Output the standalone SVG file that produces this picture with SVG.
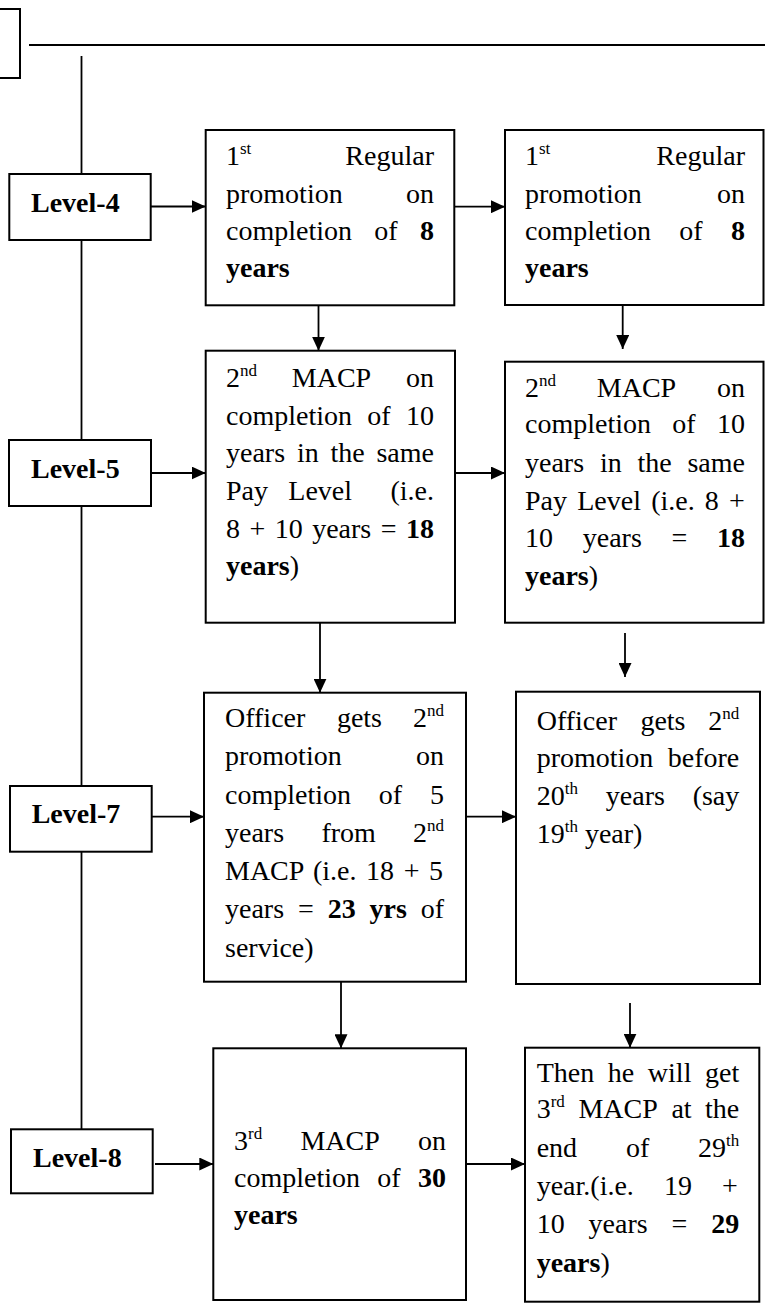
<svg xmlns="http://www.w3.org/2000/svg" width="765" height="1309" viewBox="0 0 765 1309">
<defs>
<marker id="ah" markerUnits="userSpaceOnUse" markerWidth="15" markerHeight="13" refX="14" refY="6.5" orient="auto"><path d="M0,0 L14,6.5 L0,13 z" fill="#000"/></marker>
<style>
.box{fill:#fff;stroke:#000;stroke-width:2}
.ln{fill:none;stroke:#000;stroke-width:1.8}
.t{font-family:"Liberation Serif","Times New Roman",serif;font-size:28px;fill:#000}
.b{font-weight:bold}
.s{font-size:17px}
.lv{font-family:"Liberation Serif","Times New Roman",serif;font-size:28px;font-weight:bold;fill:#000}
</style>
</defs>
<rect width="765" height="1309" fill="#fff"/>
<g id="connectors">
<rect class="box" x="-3" y="9" width="23" height="69"/>
<line class="ln" x1="29" y1="45" x2="765" y2="45"/>
<line class="ln" x1="81.5" y1="56" x2="81.5" y2="1129"/>
<line class="ln" x1="151" y1="206.5" x2="205.7" y2="206.5" marker-end="url(#ah)"/>
<line class="ln" x1="454.3" y1="206.7" x2="505" y2="206.7" marker-end="url(#ah)"/>
<line class="ln" x1="151" y1="473" x2="205.7" y2="473" marker-end="url(#ah)"/>
<line class="ln" x1="455" y1="473" x2="505" y2="473" marker-end="url(#ah)"/>
<line class="ln" x1="152" y1="816.7" x2="204" y2="816.7" marker-end="url(#ah)"/>
<line class="ln" x1="466" y1="816.7" x2="516" y2="816.7" marker-end="url(#ah)"/>
<line class="ln" x1="155" y1="1164" x2="213.3" y2="1164" marker-end="url(#ah)"/>
<line class="ln" x1="466" y1="1164" x2="525" y2="1164" marker-end="url(#ah)"/>
<line class="ln" x1="318.5" y1="305.3" x2="318.5" y2="350.7" marker-end="url(#ah)"/>
<line class="ln" x1="622.7" y1="305" x2="622.7" y2="349" marker-end="url(#ah)"/>
<line class="ln" x1="320" y1="622.7" x2="320" y2="692.7" marker-end="url(#ah)"/>
<line class="ln" x1="625" y1="633" x2="625" y2="677" marker-end="url(#ah)"/>
<line class="ln" x1="341" y1="981.7" x2="341" y2="1048.3" marker-end="url(#ah)"/>
<line class="ln" x1="630" y1="1003" x2="630" y2="1047.7" marker-end="url(#ah)"/>
</g>
<g id="level4"><rect class="box" x="9.3" y="174" width="141.4" height="66"/><text class="lv" x="31" y="211.7">Level-4</text></g>
<g id="level5"><rect class="box" x="9" y="440" width="142" height="66"/><text class="lv" x="31" y="478">Level-5</text></g>
<g id="level7"><rect class="box" x="10" y="786" width="141.7" height="65.7"/><text class="lv" x="31.7" y="823">Level-7</text></g>
<g id="level8"><rect class="box" x="11" y="1129.3" width="141.7" height="64"/><text class="lv" x="33" y="1166.7">Level-8</text></g>
<g id="a1">
<rect class="box" x="205.7" y="130" width="248.6" height="175.3"/>
<text class="t" y="165"><tspan x="226">1</tspan><tspan class="s" dy="-11">st</tspan><tspan x="434" dy="11" text-anchor="end">Regular</tspan></text>
<text class="t" y="203"><tspan x="226">promotion</tspan><tspan x="434" text-anchor="end">on</tspan></text>
<text class="t" x="226" y="240" word-spacing="15.35">completion of <tspan class="b">8</tspan></text>
<text class="t b" x="226" y="277">years</text>
</g>
<g id="b1">
<rect class="box" x="505" y="130" width="258.5" height="175"/>
<text class="t" y="165"><tspan x="525">1</tspan><tspan class="s" dy="-11">st</tspan><tspan x="745" dy="11" text-anchor="end">Regular</tspan></text>
<text class="t" y="203"><tspan x="525">promotion</tspan><tspan x="745" text-anchor="end">on</tspan></text>
<text class="t" x="525" y="240" word-spacing="21.35">completion of <tspan class="b">8</tspan></text>
<text class="t b" x="525" y="276.7">years</text>
</g>
<g id="a2">
<rect class="box" x="205.7" y="350.7" width="249.3" height="272"/>
<text class="t" y="386.7"><tspan x="226">2</tspan><tspan class="s" dy="-11">nd</tspan><tspan x="291.8" dy="11">MACP</tspan><tspan x="434" text-anchor="end">on</tspan></text>
<text class="t" x="226" y="425" word-spacing="8.35">completion of 10</text>
<text class="t" x="226" y="461.7" word-spacing="4.8">years in the same</text>
<text class="t" y="500"><tspan x="226">Pay</tspan><tspan x="288.3">Level</tspan><tspan x="434" text-anchor="end">(i.e.</tspan></text>
<text class="t" x="226" y="538" word-spacing="2.46">8 + 10 years = <tspan class="b">18</tspan></text>
<text class="t" x="226" y="575"><tspan class="b">years</tspan>)</text>
</g>
<g id="b2">
<rect class="box" x="505" y="361.7" width="258.5" height="261"/>
<text class="t" y="396.7"><tspan x="525">2</tspan><tspan class="s" dy="-11">nd</tspan><tspan x="596.8" dy="11">MACP</tspan><tspan x="745" text-anchor="end">on</tspan></text>
<text class="t" x="525" y="433.3" word-spacing="14.35">completion of 10</text>
<text class="t" x="525" y="471.7" word-spacing="8.8">years in the same</text>
<text class="t" x="525" y="510" word-spacing="3.2">Pay Level (i.e. 8 +</text>
<text class="t" x="525" y="546.7" word-spacing="22.7">10 years = <tspan class="b">18</tspan></text>
<text class="t" x="525" y="585"><tspan class="b">years</tspan>)</text>
</g>
<g id="a3">
<rect class="box" x="204" y="692.7" width="262" height="289"/>
<text class="t" y="727"><tspan x="225">Officer</tspan><tspan x="336.9">gets</tspan><tspan x="413">2</tspan><tspan class="s" dy="-11">nd</tspan></text>
<text class="t" y="765"><tspan x="225">promotion</tspan><tspan x="444" text-anchor="end">on</tspan></text>
<text class="t" x="225" y="803.5" word-spacing="20.85">completion of 5</text>
<text class="t" y="842"><tspan x="225">years</tspan><tspan x="321.4">from</tspan><tspan x="413">2</tspan><tspan class="s" dy="-11">nd</tspan></text>
<text class="t" x="225" y="880" word-spacing="2.6">MACP (i.e. 18 + 5</text>
<text class="t" x="225" y="918.3" word-spacing="6.9">years = <tspan class="b">23 yrs</tspan> of</text>
<text class="t" x="225" y="956.7">service)</text>
</g>
<g id="b3">
<rect class="box" x="516" y="691.7" width="244" height="292.3"/>
<text class="t" y="730"><tspan x="536.7">Officer</tspan><tspan x="640.4">gets</tspan><tspan x="708.3">2</tspan><tspan class="s" dy="-11">nd</tspan></text>
<text class="t" x="536.7" y="766.7" word-spacing="7.4">promotion before</text>
<text class="t" y="805"><tspan x="536.7">20</tspan><tspan class="s" dy="-11">th</tspan><tspan x="605.8" dy="11">years</tspan><tspan x="739.3" text-anchor="end">(say</tspan></text>
<text class="t" y="843.3"><tspan x="536.7">19</tspan><tspan class="s" dy="-11">th</tspan><tspan x="584.9" dy="11">year)</tspan></text>
</g>
<g id="a4">
<rect class="box" x="213.3" y="1048.3" width="252.7" height="251.7"/>
<text class="t" y="1150"><tspan x="234">3</tspan><tspan class="s" dy="-11">rd</tspan><tspan x="300.4" dy="11">MACP</tspan><tspan x="446" text-anchor="end">on</tspan></text>
<text class="t" x="234" y="1186.7" word-spacing="10.35">completion of <tspan class="b">30</tspan></text>
<text class="t b" x="234" y="1224">years</text>
</g>
<g id="b4">
<rect class="box" x="525" y="1047.7" width="234.3" height="254"/>
<text class="t" x="536.7" y="1081.7" word-spacing="6.6">Then he will get</text>
<text class="t" y="1118.3"><tspan x="536.7">3</tspan><tspan class="s" dy="-11">rd</tspan><tspan x="578.4" dy="11">MACP</tspan><tspan x="671.4">at</tspan><tspan x="739.3" text-anchor="end">the</tspan></text>
<text class="t" y="1156.7"><tspan x="536.7">end</tspan><tspan x="626">of</tspan><tspan x="698.1">29</tspan><tspan class="s" dy="-11">th</tspan></text>
<text class="t" x="536.7" y="1195" word-spacing="23.05">year.(i.e. 19 +</text>
<text class="t" x="536.7" y="1233.3" word-spacing="16.9">10 years = <tspan class="b">29</tspan></text>
<text class="t" x="536.7" y="1271.7"><tspan class="b">years</tspan>)</text>
</g>
</svg>
